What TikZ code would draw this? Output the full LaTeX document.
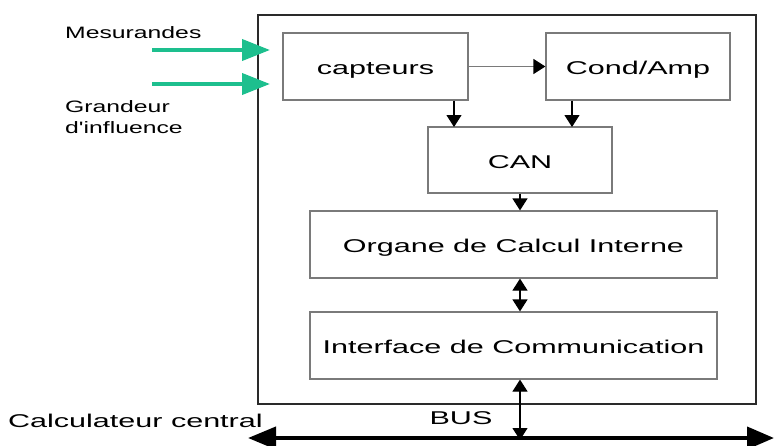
\documentclass[tikz,border=0pt]{standalone}
\usepackage{fontspec}
\setmainfont[FakeStretch=1.65]{Liberation Sans}
\newfontfamily\lblfont[FakeStretch=1.5]{Liberation Sans}
\usetikzlibrary{arrows.meta,positioning,calc}
\definecolor{sgreen}{HTML}{1DBF8E}
\definecolor{sgray}{HTML}{7A7A7A}
\definecolor{sdark}{HTML}{2A2A2A}

\begin{document}
\begin{tikzpicture}[x=1pt,y=-1pt,
 blk/.style={draw=sgray, line width=1.2pt, minimum height=67pt, inner sep=0pt, text height=16pt, text depth=0pt, font=\fontsize{18.5}{20}\selectfont},
 arr/.style={line width=1.2pt, -{Triangle[length=12pt,width=15pt]}},
 darr/.style={line width=1.2pt, {Triangle[length=12pt,width=15pt]}-{Triangle[length=12pt,width=15pt]}},
 inarr/.style={sgreen, line width=4pt, -{Triangle[length=28pt,width=21pt]}},
 busarr/.style={line width=4pt, {Triangle[length=28pt,width=22pt]}-{Triangle[length=27pt,width=22pt]}},
 lbl/.style={inner sep=0pt, font=\lblfont\fontsize{16.5}{20}\selectfont},
 big/.style={inner sep=0pt, font=\fontsize{18.5}{20}\selectfont}]
 \useasboundingbox (0,0) rectangle (774,445);
 % boitier du capteur
 \node[draw=sdark, line width=1.3pt, minimum width=498pt, minimum height=389pt] (sys) at (507,209.5) {};
 \node[blk, minimum width=185pt] (capt) at (375.5,66.5) {capteurs};
 \node[blk, minimum width=184pt] (cond) at (638,66.5) {Cond/Amp};
 \node[blk, minimum width=184pt, minimum height=66pt] (can) at (520,160) {CAN};
 \node[blk, minimum width=407pt] (org) at (513.5,244.5) {Organe de Calcul Interne};
 \node[blk, minimum width=407pt] (itf) at (513.5,345.5) {Interface de Communication};
 % liaisons internes
 \coordinate (in1) at (454,127);
 \coordinate (in2) at (572,127);
 \draw[arr, sgray, -{Triangle[length=12pt,width=15pt,color=black]}] (capt.east) -- (cond.west);
 \draw[arr] (capt.south -| in1) -- (in1);
 \draw[arr] (cond.south -| in2) -- (in2);
 \draw[arr] (can.south) -- (can.south |- org.north);
 \draw[darr] (org.south -| can) -- (itf.north -| can);
 % entrees
 \coordinate (m1s) at (152,50); \coordinate (m1e) at (270,50);
 \coordinate (m2s) at (152,84); \coordinate (m2e) at (270,84);
 \draw[inarr] (m1s) -- (m1e);
 \draw[inarr] (m2s) -- (m2e);
 \node[lbl, anchor=west] (mes) at (65,33) {Mesurandes};
 \node[lbl, anchor=west, align=left] (gra) at (65,117) {Grandeur\\[1pt]d'influence};
 % bus
 \coordinate (busL) at (248,438);
 \coordinate (busR) at (774,438);
 \draw[busarr] (busL) -- (busR);
 \draw[darr] (itf.south -| can) -- ([yshift=-2pt]can |- busL);
 \node[big, anchor=west] (calc) at (8,421) {Calculateur central};
 \node[big] (bus) at (461,418) {BUS};
\end{tikzpicture}
\end{document}
